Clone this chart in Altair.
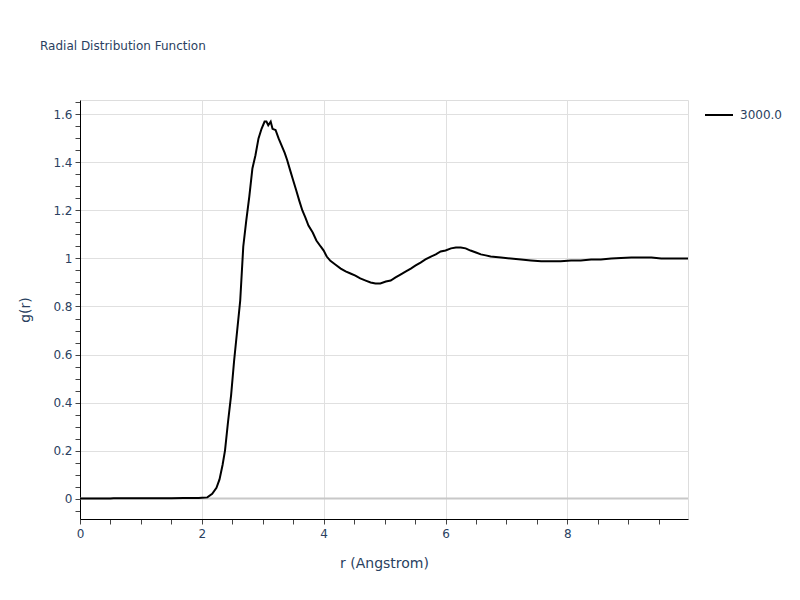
import altair as alt
import pandas as pd

# Values
r_values = [0.0, 0.5, 0.55, 1.0, 1.5, 1.7, 1.95, 2.0, 2.09, 2.17, 2.24, 2.29, 2.34, 2.38, 2.43,
            2.48, 2.53, 2.58, 2.63, 2.68, 2.73, 2.78, 2.83, 2.88, 2.93, 2.98, 3.03, 3.06, 3.09,
            3.13, 3.16, 3.21, 3.26, 3.31, 3.36, 3.40, 3.45, 3.50, 3.55, 3.60, 3.65, 3.70, 3.75,
            3.82, 3.88, 3.95, 4.00, 4.05, 4.11, 4.19, 4.28, 4.36, 4.44, 4.52, 4.60, 4.69, 4.77,
            4.85, 4.93, 5.02, 5.10, 5.18, 5.26, 5.35, 5.43, 5.51, 5.59, 5.67, 5.76, 5.84, 5.92,
            6.00, 6.09, 6.17, 6.25, 6.33, 6.41, 6.50, 6.58, 6.66, 6.74, 6.91, 7.07, 7.24, 7.40,
            7.57, 7.73, 7.89, 8.06, 8.22, 8.39, 8.55, 8.72, 8.88, 9.05, 9.21, 9.38, 9.54, 9.70,
            9.87, 9.98]
g_values = [0.0, 0.0, 0.001, 0.001, 0.001, 0.002, 0.002, 0.003, 0.005, 0.02, 0.045, 0.08, 0.14,
            0.2, 0.32, 0.43, 0.575, 0.70, 0.825, 1.05, 1.16, 1.26, 1.375, 1.43, 1.50, 1.54, 1.57,
            1.57, 1.555, 1.57, 1.54, 1.535, 1.50, 1.47, 1.44, 1.41, 1.367, 1.325, 1.283, 1.24,
            1.20, 1.17, 1.137, 1.108, 1.075, 1.05, 1.033, 1.008, 0.99, 0.975, 0.958, 0.946,
            0.9375, 0.929, 0.917, 0.908, 0.90, 0.896, 0.896, 0.904, 0.908, 0.921, 0.933, 0.946,
            0.958, 0.971, 0.983, 0.996, 1.008, 1.017, 1.029, 1.033, 1.042, 1.046, 1.046, 1.042,
            1.033, 1.025, 1.017, 1.013, 1.008, 1.004, 1.0, 0.996, 0.992, 0.988, 0.988, 0.988,
            0.992, 0.992, 0.996, 0.996, 1.0, 1.002, 1.004, 1.004, 1.004, 1.0, 1.0, 1.0, 1.0]
series_name = "3000.0"
chart_title = "Radial Distribution Function"

df = pd.DataFrame({"r": r_values, "g": g_values, "series": series_name})

FONT = "DejaVu Sans"
TXT = "#2a3f5f"

x_ticks = [round(i * 0.5, 2) for i in range(0, 20)]
y_ticks = [round(-0.05 + i * 0.05, 2) for i in range(0, 35)]

x_scale = alt.Scale(domain=[0, 9.98], nice=False, zero=False)
y_scale = alt.Scale(domain=[-0.085, 1.66], nice=False, zero=False)

x_axis = alt.Axis(
    title="r (Angstrom)", values=x_ticks,
    labelExpr="round(datum.value*10) % 20 == 0 ? format(datum.value, 'd') : ''",
    grid=True, gridColor="#e0e0e0", gridWidth=1,
    gridOpacity={"condition": {"test": "round(datum.value*10) % 20 == 0 && datum.value > 0", "value": 1}, "value": 0},
    domainColor="black", domainWidth=1, tickColor="#444444", tickSize=5, tickWidth=1,
    labelFont=FONT, labelFontSize=12, labelColor=TXT, labelPadding=4, labelFlush=False,
    titleFont=FONT, titleFontSize=14, titleColor=TXT, titleFontWeight="normal", titlePadding=17,
)
y_axis = alt.Axis(
    title="g(r)", values=y_ticks,
    labelExpr="abs(round(datum.value*100)) % 20 == 0 ? format(datum.value, '.1~f') : ''",
    grid=True, gridColor="#e0e0e0", gridWidth=1,
    gridOpacity={"condition": {"test": "abs(round(datum.value*100)) % 20 == 0 && round(datum.value*100) != 0", "value": 1}, "value": 0},
    domainColor="black", domainWidth=1, tickColor="#444444", tickSize=5, tickWidth=1,
    labelFont=FONT, labelFontSize=12, labelColor=TXT, labelPadding=3,
    titleFont=FONT, titleFontSize=14, titleColor=TXT, titleFontWeight="normal", titlePadding=20,
)

base = alt.Chart(df)

zero_line = alt.Chart(pd.DataFrame({"y0": [0.0]})).mark_rule(color="#c8c8c8", strokeWidth=2).encode(
    y=alt.Y("y0:Q", scale=y_scale, axis=y_axis)
)

line = base.mark_line(strokeWidth=2).encode(
    x=alt.X("r:Q", scale=x_scale, axis=x_axis),
    y=alt.Y("g:Q", scale=y_scale, axis=y_axis),
    color=alt.Color(
        "series:N",
        scale=alt.Scale(domain=[series_name], range=["black"]),
        legend=alt.Legend(
            title=None, orient="none", legendX=624, legendY=0,
            symbolType="stroke", symbolSize=784, symbolStrokeWidth=2,
            labelFont=FONT, labelFontSize=12, labelColor=TXT, labelOffset=6,
        ),
    ),
)

title_text = alt.Chart(pd.DataFrame({"t": [chart_title]})).mark_text(
    align="left", baseline="middle", font=FONT, fontSize=12, color=TXT
).encode(x=alt.value(-40), y=alt.value(-54), text="t:N")

chart = alt.layer(zero_line, line, title_text).properties(
    width=608, height=419,
    autosize=alt.AutoSizeParams(type="none"),
    padding={"left": 72, "top": 92, "right": 100, "bottom": 60},
).configure_view(stroke=None).configure(background="white")

chart.save("out.html", embed_options={"renderer": "svg", "actions": False})
